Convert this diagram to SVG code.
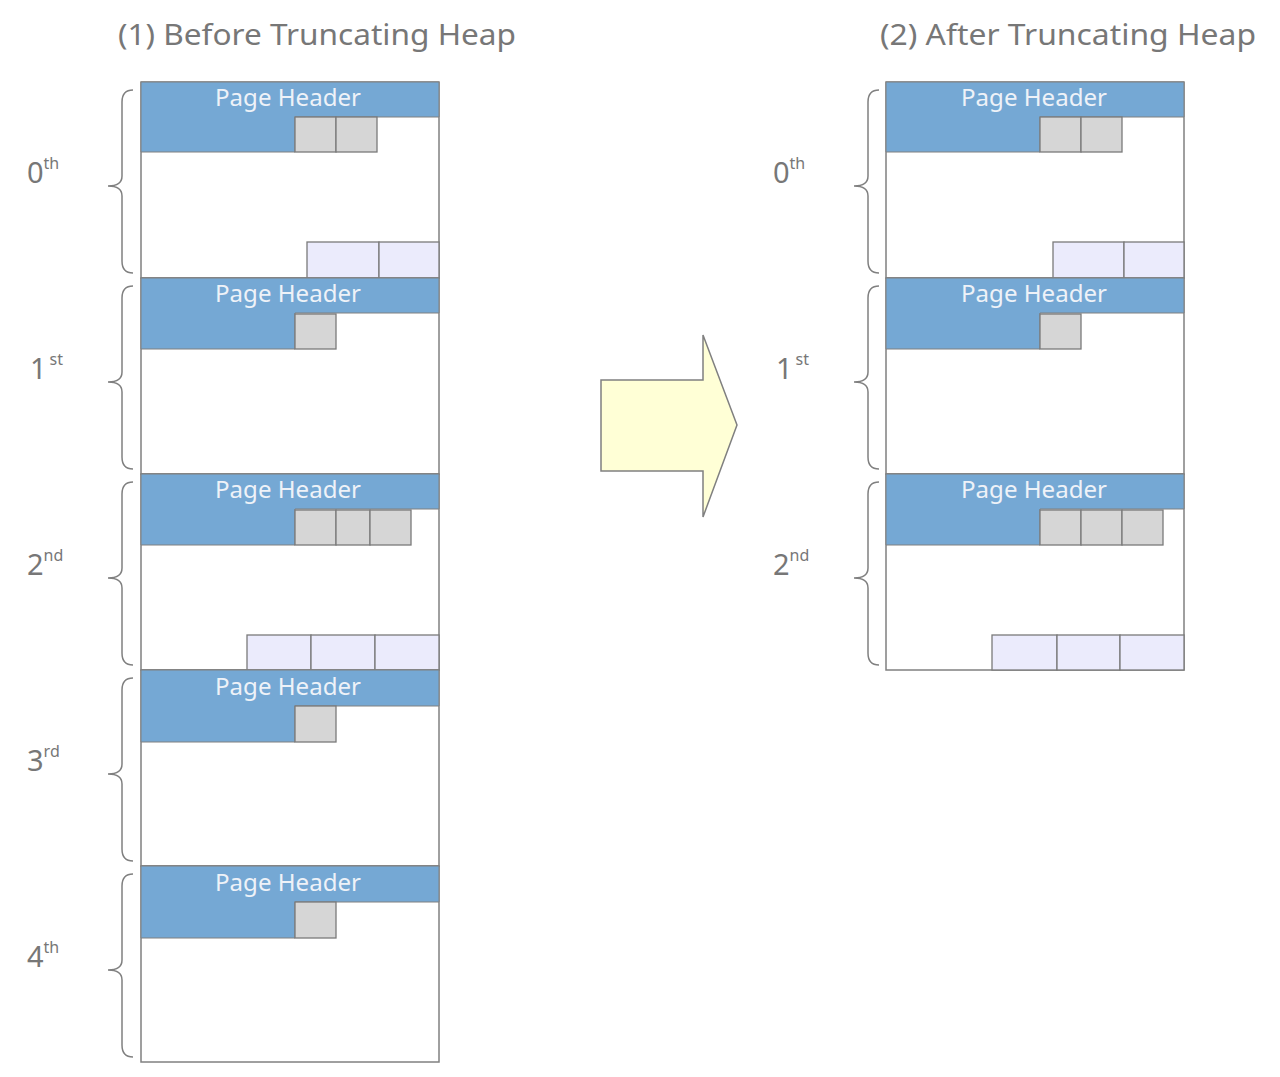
<svg xmlns="http://www.w3.org/2000/svg" width="1280" height="1077" viewBox="0 0 1280 1077">
<style>
.title{font-family:"Noto Sans","Liberation Sans",sans-serif;font-size:29px;fill:#777}
.lbl{font-family:"Noto Sans","Liberation Sans",sans-serif;font-size:29px;fill:#777}
.sup{font-size:16px}
.ph{font-family:"Noto Sans","Liberation Sans",sans-serif;font-size:24px;fill:#eef2f8;text-anchor:middle}
.page{fill:#fff;stroke:#808080;stroke-width:1.5}
.hdr{fill:#75a8d4;stroke:#808080;stroke-width:1}
.lp{fill:#d6d6d6;stroke:#7a7a7a;stroke-width:1.3}
.tu{fill:#ebebfc;stroke:#7a7a7a;stroke-width:1.3}
.brace{fill:none;stroke:#808080;stroke-width:1.5}
</style>
<rect width="1280" height="1077" fill="#fff"/>
<text class="title" x="118" y="45" textLength="398" lengthAdjust="spacingAndGlyphs">(1) Before Truncating Heap</text>
<text class="title" x="880" y="45" textLength="376" lengthAdjust="spacingAndGlyphs">(2) After Truncating Heap</text>

<g id="left-page-0">
<rect class="page" x="141" y="82" width="298" height="196"/>
<path class="hdr" d="M141,82H439V117H295V152H141Z"/>
<text class="ph" x="288" y="106" textLength="146" lengthAdjust="spacingAndGlyphs">Page Header</text>
<rect class="lp" x="295" y="117" width="41" height="35"/><rect class="lp" x="336" y="117" width="41" height="35"/>
<rect class="tu" x="307" y="242" width="72" height="36"/><rect class="tu" x="379" y="242" width="60" height="36"/>
<path class="brace" d="M133,90Q122,90 122,102V176Q122,186 108,186Q122,186 122,196V261Q122,273 133,273"/>
<text class="lbl" x="27" y="183">0<tspan class="sup" dy="-14">th</tspan></text>
</g>
<g id="left-page-1">
<rect class="page" x="141" y="278" width="298" height="196"/>
<path class="hdr" d="M141,278H439V313H295V349H141Z"/>
<text class="ph" x="288" y="302" textLength="146" lengthAdjust="spacingAndGlyphs">Page Header</text>
<rect class="lp" x="295" y="314" width="41" height="35"/>
<path class="brace" d="M133,286Q122,286 122,298V372Q122,382 108,382Q122,382 122,392V457Q122,469 133,469"/>
<text class="lbl" x="30" y="379">1<tspan class="sup" dx="3" dy="-14">st</tspan></text>
</g>
<g id="left-page-2">
<rect class="page" x="141" y="474" width="298" height="196"/>
<path class="hdr" d="M141,474H439V509H295V545H141Z"/>
<text class="ph" x="288" y="498" textLength="146" lengthAdjust="spacingAndGlyphs">Page Header</text>
<rect class="lp" x="295" y="510" width="41" height="35"/><rect class="lp" x="336" y="510" width="34" height="35"/><rect class="lp" x="370" y="510" width="41" height="35"/>
<rect class="tu" x="247" y="635" width="64" height="35"/><rect class="tu" x="311" y="635" width="64" height="35"/><rect class="tu" x="375" y="635" width="64" height="35"/>
<path class="brace" d="M133,482Q122,482 122,494V568Q122,578 108,578Q122,578 122,588V653Q122,665 133,665"/>
<text class="lbl" x="27" y="575">2<tspan class="sup" dy="-14">nd</tspan></text>
</g>
<g id="left-page-3">
<rect class="page" x="141" y="670" width="298" height="196"/>
<path class="hdr" d="M141,670H439V706H295V742H141Z"/>
<text class="ph" x="288" y="695" textLength="146" lengthAdjust="spacingAndGlyphs">Page Header</text>
<rect class="lp" x="295" y="706" width="41" height="36"/>
<path class="brace" d="M133,678Q122,678 122,690V764Q122,774 108,774Q122,774 122,784V849Q122,861 133,861"/>
<text class="lbl" x="27" y="771">3<tspan class="sup" dy="-14">rd</tspan></text>
</g>
<g id="left-page-4">
<rect class="page" x="141" y="866" width="298" height="196"/>
<path class="hdr" d="M141,866H439V902H295V938H141Z"/>
<text class="ph" x="288" y="891" textLength="146" lengthAdjust="spacingAndGlyphs">Page Header</text>
<rect class="lp" x="295" y="902" width="41" height="36"/>
<path class="brace" d="M133,874Q122,874 122,886V960Q122,970 108,970Q122,970 122,980V1045Q122,1057 133,1057"/>
<text class="lbl" x="27" y="967">4<tspan class="sup" dy="-14">th</tspan></text>
</g>

<g id="connectors">
<polygon points="601,380 703,380 703,335 737,425 703,517 703,471 601,471" fill="#ffffd6" stroke="#808080" stroke-width="1.5"/>
</g>

<g id="right-page-0">
<rect class="page" x="886" y="82" width="298" height="196"/>
<path class="hdr" d="M886,82H1184V117H1040V152H886Z"/>
<text class="ph" x="1034" y="106" textLength="146" lengthAdjust="spacingAndGlyphs">Page Header</text>
<rect class="lp" x="1040" y="117" width="41" height="35"/><rect class="lp" x="1081" y="117" width="41" height="35"/>
<rect class="tu" x="1053" y="242" width="71" height="36"/><rect class="tu" x="1124" y="242" width="60" height="36"/>
<path class="brace" d="M879,90Q868,90 868,102V176Q868,186 854,186Q868,186 868,196V261Q868,273 879,273"/>
<text class="lbl" x="773" y="183">0<tspan class="sup" dy="-14">th</tspan></text>
</g>
<g id="right-page-1">
<rect class="page" x="886" y="278" width="298" height="196"/>
<path class="hdr" d="M886,278H1184V313H1040V349H886Z"/>
<text class="ph" x="1034" y="302" textLength="146" lengthAdjust="spacingAndGlyphs">Page Header</text>
<rect class="lp" x="1040" y="314" width="41" height="35"/>
<path class="brace" d="M879,286Q868,286 868,298V372Q868,382 854,382Q868,382 868,392V457Q868,469 879,469"/>
<text class="lbl" x="776" y="379">1<tspan class="sup" dx="3" dy="-14">st</tspan></text>
</g>
<g id="right-page-2">
<rect class="page" x="886" y="474" width="298" height="196"/>
<path class="hdr" d="M886,474H1184V509H1040V545H886Z"/>
<text class="ph" x="1034" y="498" textLength="146" lengthAdjust="spacingAndGlyphs">Page Header</text>
<rect class="lp" x="1040" y="510" width="41" height="35"/><rect class="lp" x="1081" y="510" width="41" height="35"/><rect class="lp" x="1122" y="510" width="41" height="35"/>
<rect class="tu" x="992" y="635" width="65" height="35"/><rect class="tu" x="1057" y="635" width="63" height="35"/><rect class="tu" x="1120" y="635" width="64" height="35"/>
<path class="brace" d="M879,482Q868,482 868,494V568Q868,578 854,578Q868,578 868,588V653Q868,665 879,665"/>
<text class="lbl" x="773" y="575">2<tspan class="sup" dy="-14">nd</tspan></text>
</g>
</svg>
